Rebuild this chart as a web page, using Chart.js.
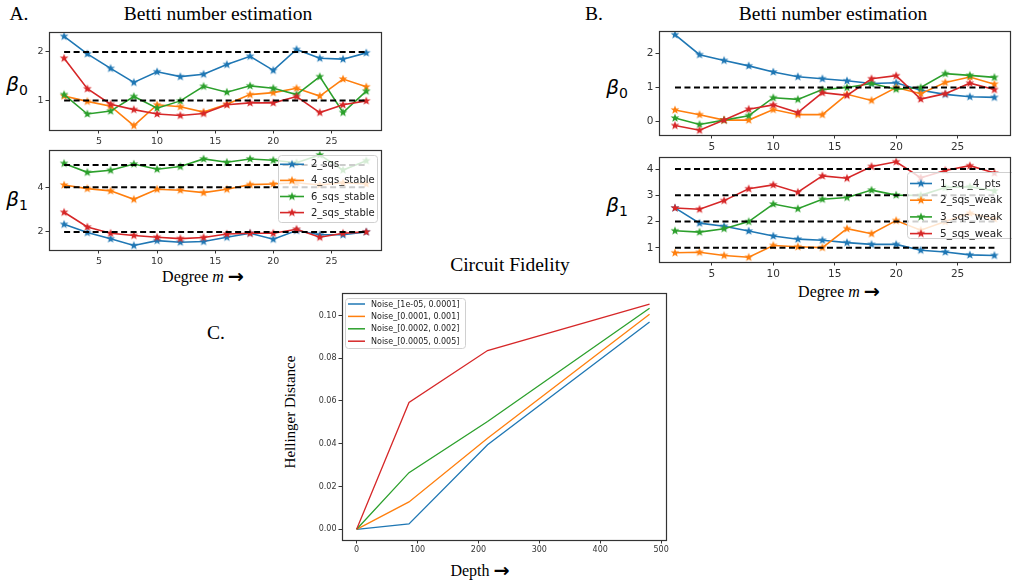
<!DOCTYPE html>
<html>
<head>
<meta charset="utf-8">
<script src="https://cdn.jsdelivr.net/npm/chart.js@4.4.0/dist/chart.umd.min.js"></script>
<style>
  body { margin:0; width:1012px; height:582px; overflow:hidden; background:#fff; position:relative; }
  .panel { position:absolute; }
  .t { position:absolute; white-space:nowrap; color:#000; transform:translate(-50%,-50%); font-family:"Liberation Serif", serif; line-height:1; }
  .t .arr { font-family:"DejaVu Sans", sans-serif; font-weight:bold; font-size:1.2em; line-height:0; vertical-align:-1px; }
  .beta { position:absolute; white-space:nowrap; transform:translate(-50%,-50%); font-family:"DejaVu Sans", sans-serif; font-style:italic; font-size:20px; line-height:1; }
  .beta sub { font-style:normal; font-size:14px; vertical-align:-4px; }
</style>
</head>
<body>
<div class="t" style="left:19px;top:14px;font-size:19.5px">A.</div>
<div class="t" style="left:218px;top:14px;font-size:19.5px">Betti number estimation</div>
<div class="t" style="left:594px;top:14px;font-size:19.5px">B.</div>
<div class="t" style="left:833px;top:14px;font-size:19.5px">Betti number estimation</div>
<div class="t" style="left:510px;top:265px;font-size:19.5px">Circuit Fidelity</div>
<div class="t" style="left:216px;top:333px;font-size:19.5px">C.</div>
<div class="t" style="left:203px;top:277px;font-size:16px">Degree <i>m</i> <span class="arr">→</span></div>
<div class="t" style="left:839px;top:292px;font-size:16px">Degree <i>m</i> <span class="arr">→</span></div>
<div class="t" style="left:480px;top:571px;font-size:16px">Depth <span class="arr">→</span></div>
<div class="t" style="left:290px;top:412px;font-size:15px;transform:translate(-50%,-50%) rotate(-90deg)">Hellinger Distance</div>
<div class="beta" style="left:17px;top:85px">β<sub>0</sub></div>
<div class="beta" style="left:17px;top:200px">β<sub>1</sub></div>
<div class="beta" style="left:617px;top:88px">β<sub>0</sub></div>
<div class="beta" style="left:617px;top:206px">β<sub>1</sub></div>

<div class="panel" id="pAtop"><canvas id="cAtop"></canvas></div>
<div class="panel" id="pAbot"><canvas id="cAbot"></canvas></div>
<div class="panel" id="pBtop"><canvas id="cBtop"></canvas></div>
<div class="panel" id="pBbot"><canvas id="cBbot"></canvas></div>
<div class="panel" id="pC"><canvas id="cC"></canvas></div>

<script>
// ---------- data ----------
const degree = [2, 4, 6, 8, 10, 12, 14, 16, 18, 20, 22, 24, 26, 28];
const degreeTicks = [5, 10, 15, 20, 25];

// panel A
const aLabels = ["2_sqs", "4_sqs_stable", "6_sqs_stable", "2_sqs_stable"];
const aB0_2sqs       = [2.32, 1.96, 1.66, 1.37, 1.59, 1.49, 1.54, 1.74, 1.91, 1.62, 2.05, 1.87, 1.85, 1.98];
const aB0_4sqsStable = [1.09, 0.98, 0.88, 0.48, 0.91, 0.87, 0.76, 0.92, 1.12, 1.16, 1.25, 1.09, 1.44, 1.28];
const aB0_6sqsStable = [1.12, 0.72, 0.78, 1.08, 0.84, 0.99, 1.29, 1.17, 1.30, 1.25, 1.12, 1.49, 0.75, 1.19];
const aB0_2sqsStable = [1.87, 1.24, 0.92, 0.81, 0.72, 0.69, 0.73, 0.91, 0.95, 0.95, 1.08, 0.75, 0.91, 0.99];
const aB1_2sqs       = [2.34, 1.97, 1.69, 1.39, 1.61, 1.54, 1.57, 1.76, 1.94, 1.67, 2.06, 1.87, 1.87, 2.00];
const aB1_4sqsStable = [4.10, 3.94, 3.84, 3.46, 3.91, 3.87, 3.76, 3.91, 4.12, 4.15, 4.20, 4.10, 4.20, 4.15];
const aB1_6sqsStable = [5.07, 4.67, 4.76, 5.04, 4.81, 4.93, 5.27, 5.12, 5.27, 5.21, 5.10, 5.45, 4.77, 5.19];
const aB1_2sqsStable = [2.88, 2.22, 1.94, 1.84, 1.76, 1.70, 1.75, 1.91, 1.94, 1.94, 2.12, 1.76, 1.94, 2.00];
const aB0Ref = [1, 2];
const aB1Ref = [2, 4, 5];

// panel B
const bLabels = ["1_sq _4_pts", "2_sqs_weak", "3_sqs_weak", "5_sqs_weak"];
const bB0_1sq4pts  = [2.56, 1.97, 1.80, 1.64, 1.46, 1.32, 1.26, 1.20, 1.12, 1.14, 0.92, 0.80, 0.73, 0.71];
const bB0_2sqsWeak = [0.34, 0.20, 0.04, 0.04, 0.35, 0.20, 0.20, 0.80, 0.62, 1.00, 0.82, 1.15, 1.31, 1.10];
const bB0_3sqsWeak = [0.10, -0.09, 0.04, 0.17, 0.70, 0.65, 0.94, 1.00, 1.12, 0.95, 1.00, 1.41, 1.36, 1.30];
const bB0_5sqsWeak = [-0.12, -0.26, 0.04, 0.36, 0.49, 0.26, 0.85, 0.77, 1.26, 1.35, 0.66, 0.82, 1.13, 0.94];
const bB1_1sq4pts  = [2.52, 1.94, 1.82, 1.64, 1.45, 1.33, 1.29, 1.20, 1.13, 1.13, 0.91, 0.84, 0.73, 0.71];
const bB1_2sqsWeak = [0.81, 0.83, 0.71, 0.64, 1.09, 1.04, 1.01, 1.73, 1.54, 2.04, 1.67, 2.00, 2.32, 2.10];
const bB1_3sqsWeak = [1.65, 1.60, 1.73, 2.00, 2.67, 2.49, 2.85, 2.92, 3.20, 3.01, 3.00, 3.30, 3.33, 3.17];
const bB1_5sqsWeak = [2.52, 2.47, 2.80, 3.25, 3.40, 3.12, 3.74, 3.65, 4.10, 4.28, 3.67, 3.95, 4.13, 3.85];
const bB0Ref = [1];
const bB1Ref = [1, 2, 3, 4];

// panel C
const depth = [0, 86, 215, 481];
const depthTicks = [0, 100, 200, 300, 400, 500];
const hellTicks = [0, 0.02, 0.04, 0.06, 0.08, 0.10];
const cLabels = ["Noise_[1e-05, 0.0001]", "Noise_[0.0001, 0.001]", "Noise_[0.0002, 0.002]", "Noise_[0.0005, 0.005]"];
const noise1 = [0, 0.0025, 0.0395, 0.0969];
const noise2 = [0, 0.0128, 0.0426, 0.1006];
const noise3 = [0, 0.0265, 0.0504, 0.1034];
const noise4 = [0, 0.0593, 0.0836, 0.1053];

const colors = ["#1f77b4", "#ff7f0e", "#2ca02c", "#d62728"];

// ---------- helpers ----------
function starImg(color, r){
  const c = document.createElement("canvas");
  const s = Math.ceil(2*r + 2);
  c.width = s; c.height = s;
  const g = c.getContext("2d");
  g.translate(s/2, s/2);
  g.beginPath();
  for(let i=0;i<10;i++){
    const rad = i%2 ? r*0.42 : r;
    const a = -Math.PI/2 + i*Math.PI/5;
    g.lineTo(rad*Math.cos(a), rad*Math.sin(a));
  }
  g.closePath();
  g.fillStyle = color; g.fill();
  return c;
}
const stars = colors.map(c => starImg(c, 4.6));

function series(xs, arrs, labels, withStars){
  return arrs.map((arr, k) => ({
    label: labels[k],
    data: xs.map((x, i) => ({ x: x, y: arr[i] })),
    borderColor: colors[k],
    backgroundColor: colors[k],
    borderWidth: withStars ? 1.6 : 1.3,
    pointStyle: withStars ? stars[k] : false,
    pointRadius: withStars ? 4 : 0,
    order: 4 - k,
    tension: 0
  }));
}
function refLines(levels){
  return levels.map(v => ({
    label: "", ref: true,
    data: [{ x: degree[0], y: v }, { x: degree[degree.length-1], y: v }],
    borderColor: "#000", borderWidth: 2, borderDash: [6, 3.5],
    pointRadius: 0, order: 0
  }));
}

// frame around plot area
const frame = {
  id: "frame",
  afterDraw(chart){
    const a = chart.chartArea, ctx = chart.ctx;
    ctx.save();
    ctx.strokeStyle = "#333"; ctx.lineWidth = 1.2;
    ctx.strokeRect(Math.round(a.left)+0.5, Math.round(a.top)+0.5, Math.round(a.right-a.left), Math.round(a.bottom-a.top));
    ctx.restore();
  }
};

// legend drawn inside the plot, like matplotlib
const boxLegend = {
  id: "boxLegend",
  afterDatasetsDraw(chart, args, o){
    if(!o || !o.box) return;
    const ctx = chart.ctx, ox = o.ox, oy = o.oy;
    const b = o.box;
    ctx.save();
    ctx.beginPath();
    const x = b[0]-ox+0.5, y = b[1]-oy+0.5, w = b[2]-b[0], h = b[3]-b[1], r = 3;
    ctx.moveTo(x+r, y); ctx.arcTo(x+w, y, x+w, y+h, r); ctx.arcTo(x+w, y+h, x, y+h, r);
    ctx.arcTo(x, y+h, x, y, r); ctx.arcTo(x, y, x+w, y, r); ctx.closePath();
    ctx.fillStyle = "rgba(255,255,255,0.8)"; ctx.fill();
    ctx.strokeStyle = "#d0d0d0"; ctx.lineWidth = 1; ctx.stroke();
    const items = chart.data.datasets.filter(d => !d.ref);
    ctx.font = o.font + "px 'DejaVu Sans'";
    ctx.textBaseline = "middle";
    items.forEach((d, i) => {
      const yy = o.row0 + i*o.rowH - oy;
      ctx.strokeStyle = d.borderColor; ctx.lineWidth = o.lw;
      ctx.beginPath(); ctx.moveTo(o.line[0]-ox, yy); ctx.lineTo(o.line[1]-ox, yy); ctx.stroke();
      if(d.pointStyle) ctx.drawImage(d.pointStyle, (o.line[0]+o.line[1])/2-ox-d.pointStyle.width/2, yy-d.pointStyle.height/2);
      ctx.fillStyle = "#222";
      ctx.fillText(d.label, o.textX-ox, yy+0.5);
    });
    ctx.restore();
  }
};

const YW = 45, XH = 30, PT = 8;
function makePanel(pid, cid, p, datasets){
  const padR = p.padR || 2;
  const left = p.l - YW, top = p.t - PT;
  const w = (p.r - p.l) + YW + padR, h = (p.b - p.t) + PT + XH;
  const div = document.getElementById(pid);
  div.style.left = left + "px"; div.style.top = top + "px";
  div.style.width = w + "px"; div.style.height = h + "px";
  const cv = document.getElementById(cid);
  cv.width = w; cv.height = h;
  const tickFont = { family: "DejaVu Sans", size: p.font };
  const legendOpts = p.legend ? Object.assign({ ox: left, oy: top }, p.legend) : false;
  return new Chart(cv, {
    type: "line",
    data: { datasets: datasets },
    plugins: [frame, boxLegend],
    options: {
      responsive: false, animation: false, devicePixelRatio: 1,
      layout: { padding: { left: 0, top: PT, right: padR, bottom: 0 } },
      plugins: { legend: { display: false }, tooltip: { enabled: false }, boxLegend: legendOpts },
      scales: {
        x: {
          type: "linear", min: p.x[0], max: p.x[1],
          afterBuildTicks: s => { s.ticks = p.xt.map(v => ({ value: v })); },
          afterFit: s => { s.height = XH; },
          ticks: { font: tickFont, color: "#333", padding: 2, maxRotation: 0, autoSkip: false, callback: v => String(v) },
          grid: { drawOnChartArea: false, drawTicks: true, tickLength: 3.5, color: "#333" },
          border: { display: false }
        },
        y: {
          type: "linear", min: p.y[0], max: p.y[1],
          afterBuildTicks: s => { s.ticks = p.yt.map(v => ({ value: v })); },
          afterFit: s => { s.width = YW; },
          ticks: { font: tickFont, color: "#333", padding: 2, autoSkip: false, callback: p.yfmt || (v => String(v)) },
          grid: { drawOnChartArea: false, drawTicks: true, tickLength: 3.5, color: "#333" },
          border: { display: false }
        }
      }
    }
  });
}

// ---------- panels ----------
makePanel("pAtop", "cAtop",
  { l: 49, t: 32, r: 385, b: 130, x: [0.7, 29.3], y: [0.39, 2.41], xt: degreeTicks, yt: [1, 2], font: 9.5 },
  refLines(aB0Ref).concat(series(degree, [aB0_2sqs, aB0_4sqsStable, aB0_6sqsStable, aB0_2sqsStable], aLabels, true)));

makePanel("pAbot", "cAbot",
  { l: 49, t: 150, r: 385, b: 250, x: [0.7, 29.3], y: [1.19, 5.67], xt: degreeTicks, yt: [2, 4], font: 9.5,
    legend: { box: [278, 155, 377, 222], row0: 164.3, rowH: 16.1, line: [280, 304], textX: 311, font: 10, lw: 1.6 } },
  refLines(aB1Ref).concat(series(degree, [aB1_2sqs, aB1_4sqsStable, aB1_6sqsStable, aB1_2sqsStable], aLabels, true)));

makePanel("pBtop", "cBtop",
  { l: 659, t: 31, r: 1014, b: 135, x: [0.7, 29.3], y: [-0.40, 2.66], xt: degreeTicks, yt: [0, 1, 2], font: 10.5 },
  refLines(bB0Ref).concat(series(degree, [bB0_1sq4pts, bB0_2sqsWeak, bB0_3sqsWeak, bB0_5sqsWeak], bLabels, true)));

makePanel("pBbot", "cBbot",
  { l: 659, t: 157, r: 1014, b: 262, x: [0.7, 29.3], y: [0.46, 4.45], xt: degreeTicks, yt: [1, 2, 3, 4], font: 10.5,
    legend: { box: [907, 172, 1030, 238], row0: 183.5, rowH: 16.7, line: [910, 932], textX: 940, font: 10.5, lw: 1.6 } },
  refLines(bB1Ref).concat(series(degree, [bB1_1sq4pts, bB1_2sqsWeak, bB1_3sqsWeak, bB1_5sqsWeak], bLabels, true)));

makePanel("pC", "cC",
  { l: 342, t: 293, r: 666, b: 540, padR: 10, x: [-24, 508], y: [-0.0050, 0.1105], xt: depthTicks, yt: hellTicks, font: 8,
    yfmt: v => v.toFixed(2),
    legend: { box: [345, 298, 465, 348], row0: 304, rowH: 12.4, line: [348, 365], textX: 371, font: 8, lw: 1.5 } },
  series(depth, [noise1, noise2, noise3, noise4], cLabels, false));
</script>
</body>
</html>
